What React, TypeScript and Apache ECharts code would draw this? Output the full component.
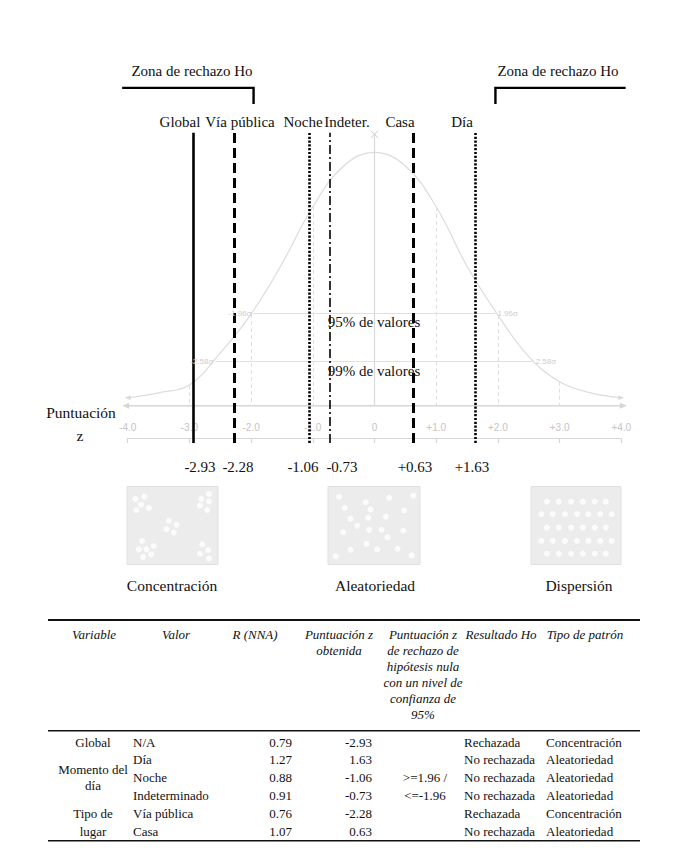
import React, { useEffect, useRef } from "react";
import * as echarts from "echarts";

// ---------- DATA ----------
const curveZ = [-4, -3.5, -3, -2.5, -2, -1.5, -1, -0.5, 0, 0.5, 1, 1.5, 2, 2.5, 3, 3.5, 4];
const curveHeights = [0.9, 2.9, 6.1, 19, 34.7, 55, 78, 94.5, 100, 94.5, 78, 54, 34.3, 17.5, 7.4, 2.9, 0.9];
const guideZ = [-3, -2, -1, 1, 2, 3];
const sigmaLevels = [1.96, 2.58];
const sigmaHeights = [35, 15.5];
const rangeLabels = ["95% de valores", "99% de valores"];
const zoneNames = ["Global", "Vía pública", "Noche", "Indeter.", "Casa", "Día"];
const zoneZ = [-2.93, -2.28, -1.06, -0.73, 0.63, 1.63];
const rejectionLabel = "Zona de rechazo Ho";

const patternNames = ["Concentración", "Aleatoriedad", "Dispersión"];
const concentracionDots = [
  [9.2, 84.1], [19.1, 87.1], [15.4, 76.7], [10.3, 69.8], [23.9, 72.4],
  [90.1, 90.5], [81.6, 84.1], [90.1, 81.0], [80.1, 75.4], [88.2, 69.8],
  [46.0, 56.0], [54.4, 50.9], [43.4, 45.3], [51.5, 40.9],
  [16.5, 30.2], [12.9, 19.4], [21.3, 19.4], [29.4, 23.7], [17.6, 9.5], [26.5, 12.9],
  [82.7, 25.9], [89.0, 18.5], [80.1, 13.8], [90.1, 7.8],
];
const aleatoriedadDots = [
  [12.0, 86.6], [41.1, 79.8], [66.5, 85.3], [92.7, 88.2], [18.2, 72.7], [46.2, 70.6],
  [82.9, 69.3], [24.4, 58.8], [43.6, 60.1], [62.9, 61.3], [31.6, 49.6], [16.4, 41.2],
  [44.7, 44.1], [58.2, 44.5], [81.8, 43.3], [64.7, 34.9], [41.8, 26.5], [24.4, 18.9],
  [53.5, 19.3], [75.6, 20.2], [8.4, 10.5], [90.9, 11.8],
];
const dispersionDots = [
  [17.7, 80.6], [30.8, 80.6], [44.6, 80.6], [57.7, 80.6], [70.8, 80.6], [83.1, 80.6],
  [11.5, 64.7], [24.2, 64.7], [37.7, 64.7], [51.2, 64.7], [63.8, 64.7], [76.9, 64.7], [89.6, 64.7],
  [17.7, 47.4], [30.8, 47.4], [44.6, 47.4], [57.7, 47.4], [70.8, 47.4], [83.1, 47.4],
  [11.5, 30.2], [24.2, 30.2], [37.7, 30.2], [51.2, 30.2], [63.8, 30.2], [76.9, 30.2], [89.6, 30.2],
  [17.7, 13.8], [30.8, 13.8], [44.6, 13.8], [57.7, 13.8], [70.8, 13.8], [83.1, 13.8],
];

const tableHeaderLines = [
  ["Variable"],
  ["Valor"],
  ["R (NNA)"],
  ["Puntuación z", "obtenida"],
  ["Puntuación z", "de rechazo de", "hipótesis nula", "con un nivel de", "confianza de", "95%"],
  ["Resultado Ho"],
  ["Tipo de patrón"],
];
const variableGroups = [["Global"], ["Momento del", "día"], ["Tipo de", "lugar"]];
const rowValor = ["N/A", "Día", "Noche", "Indeterminado", "Vía pública", "Casa"];
const rowR = [0.79, 1.27, 0.88, 0.91, 0.76, 1.07];
const rowZ = [-2.93, 1.63, -1.06, -0.73, -2.28, 0.63];
const criterioLines = [">=1.96 /", "<=-1.96"];
const rowResultado = ["Rechazada", "No rechazada", "No rechazada", "No rechazada", "Rechazada", "No rechazada"];
const rowPatron = ["Concentración", "Aleatoriedad", "Aleatoriedad", "Aleatoriedad", "Concentración", "Aleatoriedad"];

// ---------- LAYOUT ----------
const SERIF = "Liberation Serif";
const SANS = "Liberation Sans";
const Y_MIN = -17.36;
const Y_MAX = 145.34;
const ARROW_AXIS = -2.3;
const LINE_TOP = 107.9;

const txt = (text: string, x: number, y: number, o: any = {}) => ({
  type: "text",
  x,
  y,
  silent: true,
  z: 10,
  style: {
    text,
    fill: o.fill || "#111",
    fontFamily: SERIF,
    fontSize: o.size || 15,
    fontStyle: o.italic ? "italic" : "normal",
    textAlign: o.align || "center",
    textVerticalAlign: "middle",
  },
});

export default function App() {
  const ref = useRef<HTMLDivElement>(null);

  useEffect(() => {
    document.body.style.margin = "0";
    const el = ref.current!;
    const chart = echarts.init(el, null, { renderer: "svg" });

    const gray = "#d6d6d6";
    const zoneStyles: any[] = [
      { color: "#000", width: 2.6, type: "solid" },
      { color: "#000", width: 3, type: [10, 5] },
      { color: "#000", width: 2.6, type: [2.2, 1.6] },
      { color: "#000", width: 1.6, type: [9, 3, 2, 3] },
      { color: "#000", width: 3, type: [10, 5] },
      { color: "#000", width: 2.6, type: [2.2, 1.6] },
    ];

    const sigmaLabel = { show: true, color: "#cdcdcd", fontSize: 8, fontFamily: SANS, distance: 2 };
    const sigmaLines: any[] = [];
    sigmaLevels.forEach((s, i) => {
      const h = sigmaHeights[i];
      const ls = { color: "#e0e0e0", width: 1.2, type: "solid" };
      sigmaLines.push([
        { coord: [-s, h], lineStyle: ls, label: { ...sigmaLabel, position: "start", formatter: `-${s.toFixed(2)}σ` } },
        { coord: [0, h] },
      ]);
      sigmaLines.push([
        { coord: [0, h], lineStyle: ls, label: { ...sigmaLabel, position: "end", formatter: `${s.toFixed(2)}σ` } },
        { coord: [s, h] },
      ]);
    });

    const guideLines = guideZ.map((z) => [
      { coord: [z, curveHeights[curveZ.indexOf(z)]], lineStyle: { color: "#dedede", width: 1, type: [4, 3] } },
      { coord: [z, ARROW_AXIS] },
    ]);

    const boxGrid = (left: number, top: number, width: number) => ({
      left,
      top,
      width,
      height: 78,
      show: true,
      backgroundColor: "#ececec",
      borderColor: "#e0e0e0",
      borderWidth: 1,
    });

    const hiddenAxis = (gi: number) => ({ gridIndex: gi, type: "value", min: 0, max: 100, show: false });

    const dotSeries = (gi: number, data: number[][]) => ({
      type: "scatter",
      xAxisIndex: gi,
      yAxisIndex: gi,
      data,
      symbolSize: 6,
      itemStyle: { color: "#ffffff" },
      silent: true,
    });

    const option: any = {
      animation: false,
      grid: [
        { left: 127.7, right: 57.7, top: 40, bottom: 413 },
        boxGrid(127, 486.5, 91),
        boxGrid(328, 486.5, 92),
        boxGrid(531, 486.5, 90),
      ],
      xAxis: [
        {
          gridIndex: 0,
          type: "value",
          min: -4,
          max: 4,
          interval: 1,
          offset: -5,
          axisLine: { show: true, onZero: false, lineStyle: { color: gray, width: 1.2 } },
          axisTick: { show: true, length: 5, lineStyle: { color: gray, width: 1.2 } },
          axisLabel: {
            inside: true,
            margin: 6,
            color: "#c4c4c4",
            fontSize: 10,
            fontFamily: SANS,
            formatter: (v: number) => (v === 0 ? "0" : (v > 0 ? "+" : "") + v.toFixed(1)),
          },
          splitLine: { show: false },
        },
        hiddenAxis(1),
        hiddenAxis(2),
        hiddenAxis(3),
      ],
      yAxis: [
        { gridIndex: 0, type: "value", min: Y_MIN, max: Y_MAX, show: false },
        hiddenAxis(1),
        hiddenAxis(2),
        hiddenAxis(3),
      ],
      series: [
        {
          type: "line",
          xAxisIndex: 0,
          yAxisIndex: 0,
          data: curveZ.map((z, i) => [z, curveHeights[i]]),
          smooth: 0.4,
          symbol: "none",
          silent: true,
          lineStyle: { color: "#dcdcdc", width: 1.2 },
          z: 2,
          markLine: {
            silent: true,
            symbol: ["none", "none"],
            label: { show: false },
            data: [
              ...guideLines,
              ...sigmaLines,
              [
                { coord: [0, LINE_TOP - 1], lineStyle: { color: "#d9d9d9", width: 1.2, type: "solid" } },
                { coord: [0, ARROW_AXIS] },
              ],
            ],
          },
          markPoint: {
            silent: true,
            data: [
              {
                coord: [0, LINE_TOP - 0.6],
                symbol: "path://M0,0L10,10M10,0L0,10",
                symbolSize: 7,
                itemStyle: { color: "none", borderColor: "#c8c8c8", borderWidth: 1 },
                label: { show: false },
              },
            ],
          },
        },
        {
          type: "scatter",
          xAxisIndex: 0,
          yAxisIndex: 0,
          symbol: "triangle",
          symbolSize: [5, 6],
          itemStyle: { color: "#d4d4d4" },
          silent: true,
          z: 5,
          data: [
            { value: [curveZ[0], curveHeights[0]], symbolRotate: 90 },
            { value: [curveZ[curveZ.length - 1], curveHeights[curveHeights.length - 1]], symbolRotate: -90 },
          ],
          markLine: {
            silent: true,
            symbol: ["none", "none"],
            label: { show: false },
            data: zoneZ.map((z, i) => [
              { coord: [z, Y_MIN + 0.05], lineStyle: zoneStyles[i] },
              { coord: [z, LINE_TOP] },
            ]),
          },
        },
        dotSeries(1, concentracionDots),
        dotSeries(2, aleatoriedadDots),
        dotSeries(3, dispersionDots),
      ],
    };

    chart.setOption(option);

    const px = (z: number, v: number) => chart.convertToPixel({ xAxisIndex: 0, yAxisIndex: 0 }, [z, v]) as number[];

    const g: any[] = [];

    // arrow axis (light gray, both ends arrows)
    const aL = px(-4.09, ARROW_AXIS);
    const aR = px(4.09, ARROW_AXIS);
    g.push({ type: "line", silent: true, shape: { x1: aL[0] + 3, y1: aL[1], x2: aR[0] - 3, y2: aR[1] }, style: { stroke: gray, lineWidth: 1.4 } });
    g.push({ type: "polygon", silent: true, shape: { points: [[aL[0], aL[1]], [aL[0] + 7, aL[1] - 3], [aL[0] + 7, aL[1] + 3]] }, style: { fill: gray } });
    g.push({ type: "polygon", silent: true, shape: { points: [[aR[0], aR[1]], [aR[0] - 7, aR[1] - 3], [aR[0] - 7, aR[1] + 3]] }, style: { fill: gray } });

    // rejection-zone brackets at ±1.96
    const bH = 126;
    const bV = 119.5;
    const left = [px(-4.09, bH), px(-sigmaLevels[0], bH), px(-sigmaLevels[0], bV)];
    const right = [px(sigmaLevels[0], bV), px(sigmaLevels[0], bH), px(4.07, bH)];
    g.push({ type: "polyline", silent: true, z: 10, shape: { points: left }, style: { stroke: "#000", lineWidth: 2.4, fill: null } });
    g.push({ type: "polyline", silent: true, z: 10, shape: { points: right }, style: { stroke: "#000", lineWidth: 2.4, fill: null } });
    g.push(txt(rejectionLabel, 192, 71));
    g.push(txt(rejectionLabel, 558, 71));

    // zone names and values
    const nameX = [180, 240, 303, 347, 400, 462];
    const valX = [200, 238, 303, 342, 415, 472];
    zoneNames.forEach((n, i) => g.push(txt(n, nameX[i], 122)));
    zoneZ.forEach((z, i) => g.push(txt((z > 0 ? "+" : "") + z.toFixed(2), valX[i], 467)));

    // range labels
    g.push(txt(rangeLabels[0], 374, 322));
    g.push(txt(rangeLabels[1], 374, 371));

    // axis title
    g.push(txt("Puntuación", 81, 412, { size: 15.5 }));
    g.push(txt("z", 80, 435, { size: 15.5 }));

    // pattern names
    const patX = [172, 375, 579];
    patternNames.forEach((p, i) => g.push(txt(p, patX[i], 585, { size: 15.5 })));

    // table
    g.push({ type: "rect", silent: true, shape: { x: 48, y: 619, width: 592, height: 2 }, style: { fill: "#111" } });
    g.push({ type: "rect", silent: true, shape: { x: 48, y: 730, width: 592, height: 1.6 }, style: { fill: "#111" } });
    g.push({ type: "rect", silent: true, shape: { x: 48, y: 840, width: 592, height: 1.6 }, style: { fill: "#111" } });
    const headX = [94, 176, 255, 339, 423, 501, 585];
    tableHeaderLines.forEach((lines, c) =>
      lines.forEach((l, k) => g.push(txt(l, headX[c], 634 + k * 16, { size: 13, italic: true })))
    );
    const T = { size: 13 };
    const rowY = (i: number) => 742 + i * 17.8;
    g.push(txt(variableGroups[0][0], 93, rowY(0), T));
    g.push(txt(variableGroups[1][0], 93, rowY(2) - 8, T));
    g.push(txt(variableGroups[1][1], 93, rowY(2) + 8, T));
    g.push(txt(variableGroups[2][0], 93, rowY(4), T));
    g.push(txt(variableGroups[2][1], 93, rowY(5), T));
    rowValor.forEach((v, i) => {
      const y = rowY(i);
      g.push(txt(v, 133, y, { ...T, align: "left" }));
      g.push(txt(rowR[i].toFixed(2), 292, y, { ...T, align: "right" }));
      g.push(txt(rowZ[i].toFixed(2), 372, y, { ...T, align: "right" }));
      g.push(txt(rowResultado[i], 464, y, { ...T, align: "left" }));
      g.push(txt(rowPatron[i], 546, y, { ...T, align: "left" }));
    });
    g.push(txt(criterioLines[0], 425, rowY(2), T));
    g.push(txt(criterioLines[1], 425, rowY(3), T));

    chart.setOption({ graphic: g });

    return () => chart.dispose();
  }, []);

  return <div ref={ref} style={{ width: 679, height: 856 }} />;
}
